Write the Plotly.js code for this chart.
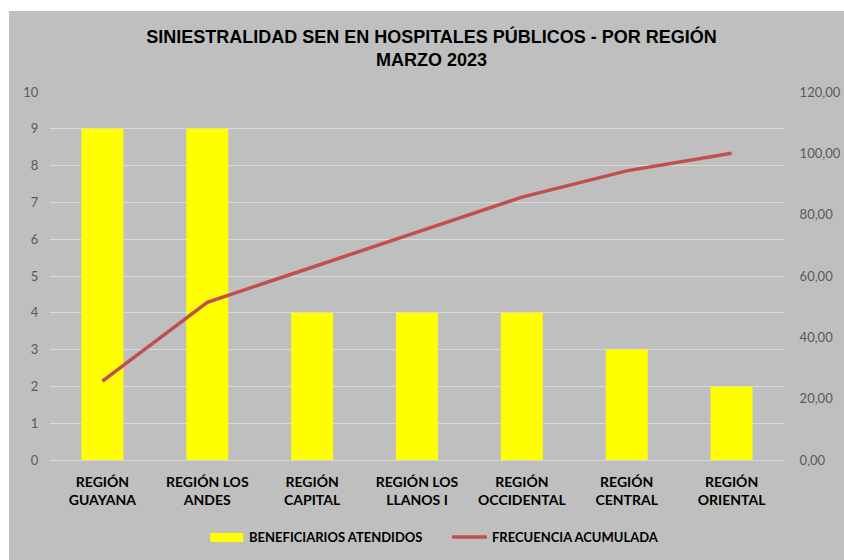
<!DOCTYPE html>
<html>
<head>
<meta charset="utf-8">
<script src="https://cdn.plot.ly/plotly-3.0.1.min.js"></script>
<style>
html,body{margin:0;padding:0;background:#ffffff;width:844px;height:560px;overflow:hidden;}
#chart{position:absolute;left:9px;top:11px;width:835px;height:549px;}
</style>
</head>
<body>
<div id="chart"></div>
<script>
var categories = ["REGIÓN<br>GUAYANA","REGIÓN LOS<br>ANDES","REGIÓN<br>CAPITAL","REGIÓN LOS<br>LLANOS I","REGIÓN<br>OCCIDENTAL","REGIÓN<br>CENTRAL","REGIÓN<br>ORIENTAL"];
var beneficiarios = [9, 9, 4, 4, 4, 3, 2];
var frecuenciaAcumulada = [25.71, 51.43, 62.86, 74.29, 85.71, 94.29, 100.00];
var leftTicks = [0,1,2,3,4,5,6,7,8,9,10];
var rightTicks = [0,20,40,60,80,100,120];
var seriesNames = ['BENEFICIARIOS ATENDIDOS', 'FRECUENCIA ACUMULADA'];
var barColor = '#ffff00';
var lineColor = '#c0504d';

var traces = [
  {
    type: 'bar',
    name: seriesNames[0],
    x: categories,
    y: beneficiarios,
    marker: {color: barColor},
    width: 0.4,
    hoverinfo: 'skip'
  },
  {
    type: 'scatter',
    mode: 'lines',
    name: seriesNames[1],
    x: categories,
    y: frecuenciaAcumulada,
    yaxis: 'y2',
    line: {color: lineColor, width: 3.5},
    hoverinfo: 'skip'
  }
];

var legFont = {family: 'Lato, Calibri, sans-serif', size: 13, color: '#000000', weight: 'bold'};

var layout = {
  width: 835,
  height: 549,
  paper_bgcolor: '#bfbfbf',
  plot_bgcolor: '#bfbfbf',
  separators: ',.',
  margin: {l: 40.5, r: 59.5, t: 81, b: 100, pad: 0},
  title: {
    text: 'SINIESTRALIDAD SEN EN HOSPITALES PÚBLICOS - POR REGIÓN<br>MARZO 2023',
    font: {family: 'Liberation Sans, Arial, sans-serif', size: 18, color: '#000000', weight: 'bold'},
    x: 0.506, xanchor: 'center',
    y: 0.942, yanchor: 'middle'
  },
  showlegend: false,
  shapes: [
    {type: 'rect', xref: 'paper', yref: 'paper', x0: 0.2184, x1: 0.2633, y0: -0.1984, y1: -0.2228,
     fillcolor: barColor, line: {width: 0}},
    {type: 'line', xref: 'paper', yref: 'paper', x0: 0.5476, x1: 0.5952, y0: -0.2092, y1: -0.2092,
     line: {color: lineColor, width: 3.5}}
  ],
  annotations: [
    {xref: 'paper', yref: 'paper', x: 0.2687, y: -0.2092, xanchor: 'left', yanchor: 'middle',
     text: seriesNames[0], showarrow: false, font: legFont},
    {xref: 'paper', yref: 'paper', x: 0.5993, y: -0.2092, xanchor: 'left', yanchor: 'middle',
     text: seriesNames[1], showarrow: false, font: legFont}
  ],
  bargap: 0.6,
  xaxis: {
    type: 'category',
    tickfont: {family: 'Lato, Calibri, sans-serif', size: 14, color: '#000000', weight: 'bold'},
    showgrid: false,
    showline: false,
    ticks: '',
    ticklabelstandoff: 12,
    automargin: false
  },
  yaxis: {
    range: [0, 10],
    tickvals: leftTicks,
    ticktext: leftTicks.map(String),
    showgrid: true,
    gridcolor: '#d9d9d9',
    gridwidth: 1,
    zeroline: true,
    zerolinecolor: '#d9d9d9',
    zerolinewidth: 1,
    showline: false,
    ticks: 'outside',
    ticklen: 8,
    tickcolor: 'rgba(0,0,0,0)',
    tickfont: {family: 'Lato, Calibri, sans-serif', size: 13, color: '#595959'},
    automargin: false
  },
  yaxis2: {
    range: [0, 120],
    tickvals: rightTicks,
    tickformat: '.2f',
    overlaying: 'y',
    side: 'right',
    showgrid: false,
    zeroline: false,
    showline: false,
    ticks: 'outside',
    ticklen: 12,
    tickcolor: 'rgba(0,0,0,0)',
    tickfont: {family: 'Lato, Calibri, sans-serif', size: 13, color: '#595959'},
    automargin: false
  }
};

Plotly.newPlot('chart', traces, layout, {displayModeBar: false, staticPlot: true});
</script>
</body>
</html>
